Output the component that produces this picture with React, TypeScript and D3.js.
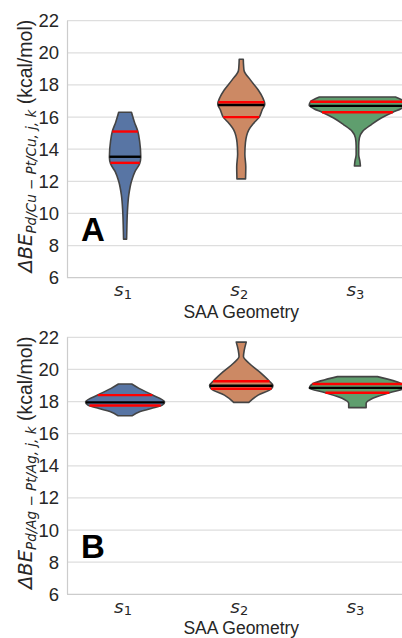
import * as d3 from 'd3'

const categories = ['s1', 's2', 's3']
const categorySubs = ['1', '2', '3']
const yTicks = [6, 8, 10, 12, 14, 16, 18, 20, 22]
const fills = ['#5875A4', '#CC8964', '#5F9E6E']

// violin outlines: [value, half width as share of half band]
const cuS1: [number, number][] = [
  [16.3, 0.11], [15.7, 0.16], [15.1, 0.22], [14.5, 0.25], [13.5, 0.27], [13.1, 0.25],
  [12.6, 0.17], [12.0, 0.11], [11.15, 0.064], [10.1, 0.04], [9.0, 0.03], [8.4, 0.026],
]
const cuS2: [number, number][] = [
  [19.6, 0.035], [19.2, 0.04], [18.9, 0.048], [18.3, 0.16], [17.7, 0.29], [17.2, 0.37],
  [16.8, 0.405], [16.45, 0.36], [16.0, 0.31], [15.6, 0.21], [15.2, 0.13], [14.4, 0.072],
  [13.7, 0.062], [12.9, 0.078], [12.15, 0.074],
]
const cuS3: [number, number][] = [
  [17.25, 0.655], [16.95, 0.81], [16.73, 0.83], [16.52, 0.75], [16.3, 0.61], [15.94, 0.41],
  [15.52, 0.236], [15.11, 0.09], [14.7, 0.034], [14.2, 0.022], [13.66, 0.022], [13.24, 0.043],
  [12.95, 0.052],
]
const agS1: [number, number][] = [
  [19.09, 0.115], [18.82, 0.24], [18.45, 0.445], [17.97, 0.68], [17.78, 0.64], [17.57, 0.45],
  [17.38, 0.26], [17.12, 0.126],
]
const agS2: [number, number][] = [
  [21.7, 0.086], [21.2, 0.052], [20.8, 0.038], [20.4, 0.13], [19.86, 0.31], [19.28, 0.48],
  [19.0, 0.545], [18.8, 0.52], [18.4, 0.29], [17.95, 0.13],
]
const agS3: [number, number][] = [
  [19.55, 0.345], [19.09, 0.775], [18.85, 0.83], [18.55, 0.55], [18.2, 0.264], [17.88, 0.15],
  [17.62, 0.15],
]

const cuMedian = [13.53, 16.75, 16.7]
const cuQ1 = [13.15, 16.0, 16.3]
const cuQ3 = [15.1, 16.92, 16.95]
const agMedian = [17.95, 18.98, 18.85]
const agQ1 = [17.75, 18.8, 18.55]
const agQ3 = [18.4, 19.26, 19.09]

const W = 402
const H = 638
const plotLeft = 67
const plotRight = 415.5
const plotH = 257
const textColor = '#262626'

type PanelProps = {
  top: number
  profiles: [number, number][][]
  medians: number[]
  q1: number[]
  q3: number[]
  metal: string
  letter: string
}

function Panel({ top, profiles, medians, q1, q3, metal, letter }: PanelProps) {
  const x = d3.scaleBand().domain(categories).range([plotLeft, plotRight]).padding(0)
  const y = d3.scaleLinear().domain([6, 22]).range([top + plotH, top])
  const w = d3.scaleLinear().domain([0, 1]).range([0, x.bandwidth() / 2])
  const bottom = top + plotH

  return (
    <g>
      {yTicks.map((t) => (
        <g key={t}>
          <line
            x1={plotLeft}
            x2={plotRight}
            y1={y(t)}
            y2={y(t)}
            stroke={t === 6 ? '#cccccc' : '#dedede'}
            strokeWidth={1.2}
          />
          <text
            x={59}
            y={y(t)}
            dy="0.35em"
            textAnchor="end"
            fontSize={18.5}
            fontFamily="Liberation Sans, Arial, sans-serif"
            fill={textColor}
          >
            {t}
          </text>
        </g>
      ))}
      <line x1={plotLeft + 0.5} x2={plotLeft + 0.5} y1={top} y2={bottom} stroke="#cccccc" strokeWidth={1.2} />

      {categories.map((c, i) => {
        const cx = (x(c) as number) + x.bandwidth() / 2
        const prof = profiles[i]
        const area = d3
          .area<[number, number]>()
          .y((d) => y(d[0]))
          .x0((d) => cx - w(d[1]))
          .x1((d) => cx + w(d[1]))
          .curve(d3.curveMonotoneY)
        const widthAt = d3
          .scaleLinear()
          .domain(prof.map((d) => d[0]))
          .range(prof.map((d) => d[1]))
        const seg = (v: number, color: string, key: string) => (
          <line
            key={key}
            x1={cx - w(widthAt(v))}
            x2={cx + w(widthAt(v))}
            y1={y(v)}
            y2={y(v)}
            stroke={color}
            strokeWidth={2.4}
          />
        )
        return (
          <g key={c}>
            <path d={area(prof) as string} fill={fills[i]} stroke="#444444" strokeWidth={1.6} strokeLinejoin="round" />
            {seg(q1[i], '#ff0000', 'q1')}
            {seg(q3[i], '#ff0000', 'q3')}
            {seg(medians[i], '#000000', 'med')}
            <text
              x={cx - 2}
              y={bottom + 18.5}
              textAnchor="middle"
              fontSize={18.5}
              fontFamily="DejaVu Sans, sans-serif"
              fontStyle="italic"
              fill={textColor}
            >
              s
              <tspan fontSize={13} dy={2.5} fontStyle="normal">
                {categorySubs[i]}
              </tspan>
            </text>
          </g>
        )
      })}

      <text
        x={(plotLeft + plotRight) / 2}
        y={bottom + 40}
        textAnchor="middle"
        fontSize={17.5}
        fontFamily="Liberation Sans, Arial, sans-serif"
        fill={textColor}
      >
        SAA Geometry
      </text>

      <text
        transform={`translate(32, ${top + plotH / 2 - 3}) rotate(-90)`}
        textAnchor="middle"
        fontSize={19.5}
        fill={textColor}
        fontFamily="Liberation Sans, Arial, sans-serif"
      >
        <tspan fontFamily="DejaVu Sans, sans-serif" fontStyle="italic">
          ΔBE
        </tspan>
        <tspan fontFamily="DejaVu Sans, sans-serif" fontStyle="italic" fontSize={13.5} dy={4}>
          {`Pd/${metal} − Pt/${metal}, j, k`}
        </tspan>
        <tspan dy={-4}> (kcal/mol)</tspan>
      </text>

      <text
        x={81}
        y={y(8.28)}
        fontSize={33}
        fontWeight="bold"
        fontFamily="Liberation Sans, Arial, sans-serif"
        fill="#000"
      >
        {letter}
      </text>
    </g>
  )
}

export default function App() {
  return (
    <svg width={W} height={H} style={{ position: 'absolute', left: 0, top: 0, background: '#fff' }}>
      <rect width={W} height={H} fill="#fff" />
      <Panel top={20.7} profiles={[cuS1, cuS2, cuS3]} medians={cuMedian} q1={cuQ1} q3={cuQ3} metal="Cu" letter="A" />
      <Panel top={337.3} profiles={[agS1, agS2, agS3]} medians={agMedian} q1={agQ1} q3={agQ3} metal="Ag" letter="B" />
    </svg>
  )
}
